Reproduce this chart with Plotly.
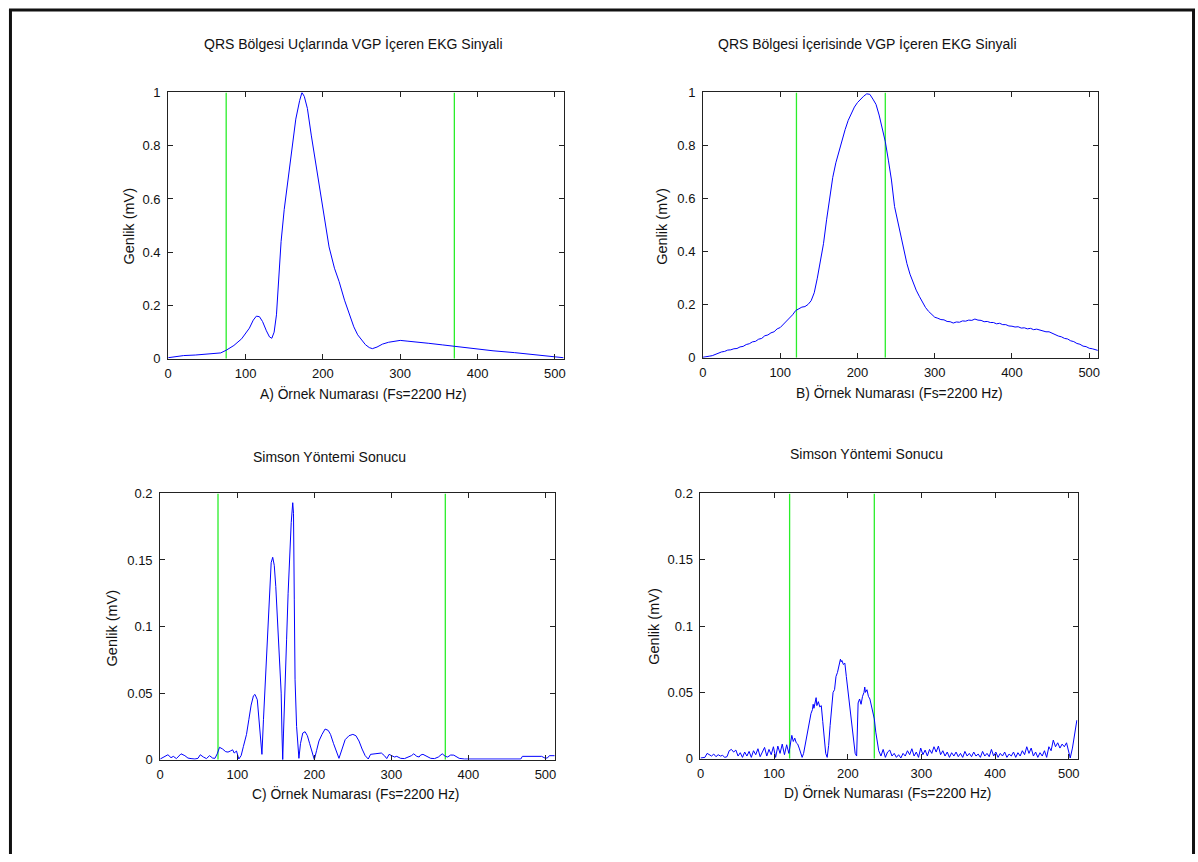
import plotly.graph_objects as go

# ---------------- data ----------------
A_x = [0, 10, 20, 35, 50, 62, 68, 75, 85, 95, 105, 110, 114, 118, 122, 127, 131, 134, 137, 140,
       143, 146, 150, 155, 160, 165, 170, 173, 176, 180, 185, 190, 195, 200, 208, 215, 221, 228,
       234, 240, 245, 250, 255, 260, 264, 270, 277, 285, 293, 300, 310, 320, 337, 355, 371, 385,
       400, 420, 448, 478, 500, 511]
A_y = [0.004, 0.008, 0.012, 0.014, 0.018, 0.021, 0.022, 0.032, 0.05, 0.075, 0.115, 0.145, 0.16,
       0.158, 0.14, 0.105, 0.082, 0.077, 0.1, 0.165, 0.3, 0.44, 0.56, 0.68, 0.8, 0.9, 0.97, 1.0,
       0.985, 0.94, 0.84, 0.75, 0.66, 0.57, 0.42, 0.34, 0.29, 0.22, 0.17, 0.12, 0.09, 0.07, 0.053,
       0.042, 0.038, 0.044, 0.055, 0.062, 0.067, 0.069, 0.066, 0.064, 0.058, 0.052, 0.046, 0.042,
       0.036, 0.03, 0.023, 0.015, 0.007, 0.004]

B_x = [0, 4, 8, 12, 16, 20, 24, 28, 32, 36, 40, 44, 48, 52, 56, 60, 64, 68, 72, 76, 80, 84, 88,
       92, 96, 100, 104, 108, 112, 116, 120, 124, 128, 132, 136, 140, 144, 148, 152, 156, 160,
       164, 168, 172, 176, 180, 184, 188, 192, 196, 200, 204, 208, 212, 216, 220, 224, 228, 232,
       236, 240, 244, 248, 252, 256, 260, 264, 268, 272, 276, 280, 284, 288, 292, 296, 300, 304,
       308, 312, 316, 320, 324, 328, 332, 336, 340, 344, 348, 352, 356, 360, 364, 368, 372, 376,
       380, 384, 388, 392, 396, 400, 404, 408, 412, 416, 420, 424, 428, 432, 436, 440, 444, 448,
       452, 456, 460, 464, 468, 472, 476, 480, 484, 488, 492, 496, 500, 504, 508, 511]
B_y = [0.002, 0.003, 0.006, 0.008, 0.013, 0.016, 0.022, 0.024, 0.029, 0.030, 0.034, 0.035, 0.041,
       0.043, 0.050, 0.053, 0.060, 0.062, 0.070, 0.073, 0.083, 0.086, 0.094, 0.098, 0.109, 0.114,
       0.126, 0.136, 0.151, 0.162, 0.178, 0.184, 0.191, 0.193, 0.201, 0.215, 0.245, 0.30, 0.37,
       0.43, 0.52, 0.60, 0.68, 0.735, 0.78, 0.82, 0.86, 0.895, 0.92, 0.945, 0.962, 0.975, 0.986,
       0.995, 0.993, 0.975, 0.955, 0.915, 0.87, 0.815, 0.745, 0.67, 0.57, 0.515, 0.46, 0.40,
       0.355, 0.315, 0.282, 0.255, 0.232, 0.21, 0.19, 0.175, 0.163, 0.153, 0.149, 0.144, 0.143,
       0.137, 0.136, 0.131, 0.135, 0.134, 0.139, 0.138, 0.142, 0.141, 0.146, 0.142, 0.141, 0.136,
       0.137, 0.133, 0.133, 0.128, 0.13, 0.125, 0.125, 0.12, 0.119, 0.116, 0.117, 0.112, 0.113,
       0.109, 0.111, 0.106, 0.108, 0.104, 0.103, 0.098, 0.098, 0.092, 0.089, 0.082, 0.079, 0.073,
       0.071, 0.064, 0.061, 0.054, 0.051, 0.044, 0.042, 0.036, 0.034, 0.029, 0.028]

C_x = [0, 5, 10, 14, 17, 21, 27, 32, 36, 40, 45, 49, 52, 56, 60, 64, 68, 71, 74, 77, 81, 85, 88,
       91, 94, 96, 99, 102, 105, 108, 112, 115, 118, 121, 123, 126, 129, 131, 132, 134, 136, 138,
       140, 142, 144, 146, 148, 150, 152, 154, 157, 158, 159, 160, 162, 164, 166, 168, 170, 172,
       173, 174, 175, 177, 179, 180, 182, 185, 188, 191, 194, 197, 200, 203, 206, 210, 214, 218,
       221, 225, 229, 232, 236, 240, 245, 250, 254, 258, 262, 266, 270, 273, 280, 287, 291, 294,
       297, 300, 304, 307, 312, 317, 322, 326, 329, 333, 336, 338, 341, 346, 351, 356, 361, 366,
       370, 373, 377, 381, 385, 388, 395, 420, 445, 468, 470, 495, 500, 503, 505, 512]
C_y = [0.0005, 0.002, 0.0037, 0.0015, 0.0025, 0.0008, 0.0044, 0.003, 0.0012, 0.0008, 0.0005,
       0.001, 0.0037, 0.002, 0.0008, 0.003, 0.0012, 0.001, 0.0044, 0.0093, 0.008, 0.006, 0.0057,
       0.0065, 0.0074, 0.005, 0.0065, 0.0005, 0.003, 0.01, 0.019, 0.03, 0.041, 0.048, 0.049,
       0.045, 0.024, 0.01, 0.004, 0.03, 0.055, 0.085, 0.11, 0.132, 0.148, 0.152, 0.146, 0.13,
       0.105, 0.08, 0.05, 0.02, 0.0, 0.02, 0.05, 0.09, 0.125, 0.155, 0.178, 0.193, 0.185, 0.12,
       0.06, 0.025, 0.005, 0.001, 0.012, 0.02, 0.021, 0.018, 0.012, 0.005, 0.0, 0.007, 0.014,
       0.019, 0.023, 0.022, 0.019, 0.012, 0.005, 0.001, 0.008, 0.015, 0.018, 0.019, 0.018, 0.014,
       0.008, 0.003, 0.0005, 0.004, 0.0045, 0.005, 0.003, 0.0008, 0.004, 0.003, 0.002, 0.0025,
       0.001, 0.0008, 0.002, 0.003, 0.0044, 0.0025, 0.002, 0.0035, 0.004, 0.0025, 0.001, 0.0008,
       0.002, 0.0044, 0.0025, 0.002, 0.0035, 0.0034, 0.002, 0.001, 0.0005, 0.0005, 0.0005,
       0.0005, 0.0025, 0.0025, 0.001, 0.0015, 0.003, 0.003]

D_x = [0, 3, 6, 9, 12, 15, 18, 21, 24, 27, 30, 33, 36, 39, 42, 45, 48, 51, 54, 57, 60, 63, 66,
       69, 72, 75, 78, 81, 84, 87, 90, 93, 96, 99, 102, 105, 108, 111, 114, 117, 120,
       122, 124, 126, 128, 130, 132, 134, 136, 138, 140, 142, 144, 146, 148, 150, 152, 153, 154,
       156, 157, 158, 160, 162, 164, 166, 168, 170, 172, 174, 176, 178, 180, 182, 184, 186, 188,
       190, 191, 192, 194, 196, 198, 200, 202, 204, 206, 208, 210, 212, 213, 214, 216, 218, 220,
       222, 223, 224, 226, 228, 230, 232, 234, 236, 238, 240, 242,
       245, 248, 251, 254, 257, 260, 263, 266, 269, 272, 275, 278, 281, 284, 287, 290, 293, 296,
       299, 302, 305, 308, 311, 314, 317, 320, 323, 326, 329, 332, 335, 338, 341, 344, 347, 350,
       353, 356, 359, 362, 365, 368, 371, 374, 377, 380, 383, 386, 389, 392, 395, 398, 401, 404,
       407, 410, 413, 416, 419, 422, 425, 428, 431, 434, 437, 440, 443, 446, 449, 452, 455, 458,
       461, 464, 467, 470, 473, 476, 479, 482, 485, 488, 491, 494, 497, 500, 502, 505, 508, 511]
D_y = [0.0005, 0.0005, 0.001, 0.004, 0.003, 0.002, 0.0035, 0.0015, 0.003, 0.002, 0.0025, 0.001,
       0.0015, 0.006, 0.007, 0.005, 0.0065, 0.002, 0.0045, 0.001, 0.005, 0.002, 0.0055, 0.001,
       0.006, 0.003, 0.0075, 0.0015, 0.005, 0.0085, 0.002, 0.007, 0.003, 0.009, 0.001, 0.0095,
       0.004, 0.011, 0.003, 0.0105, 0.004,
       0.012, 0.0176, 0.013, 0.0155, 0.012, 0.011, 0.008, 0.004, 0.001, 0.004, 0.01, 0.018, 0.024,
       0.029, 0.034, 0.037, 0.041, 0.038, 0.043, 0.046, 0.04, 0.043, 0.039, 0.04, 0.028, 0.014,
       0.004, 0.001, 0.01, 0.025, 0.04, 0.05, 0.052, 0.062, 0.065, 0.071, 0.075, 0.073, 0.074,
       0.071, 0.072, 0.062, 0.052, 0.045, 0.035, 0.025, 0.012, 0.004, 0.002, 0.02, 0.042, 0.045,
       0.041, 0.047, 0.05, 0.054, 0.05, 0.052, 0.047, 0.045, 0.04, 0.036, 0.03, 0.02, 0.011, 0.006,
       0.002, 0.007, 0.001, 0.005, 0.0065, 0.002, 0.004, 0.001, 0.003, 0.0005, 0.004, 0.002, 0.006,
       0.003, 0.0075, 0.002, 0.005, 0.001, 0.008, 0.003, 0.0065, 0.002, 0.007, 0.004, 0.009, 0.005,
       0.0095, 0.003, 0.006, 0.002, 0.005, 0.001, 0.0045, 0.002, 0.005, 0.0015, 0.004, 0.001,
       0.0055, 0.002, 0.004, 0.0015, 0.005, 0.002, 0.0035, 0.001, 0.0055, 0.002, 0.004, 0.0015,
       0.007, 0.002, 0.005, 0.001, 0.004, 0.002, 0.005, 0.001, 0.0035, 0.002, 0.005, 0.001, 0.0045,
       0.002, 0.006, 0.003, 0.009, 0.004, 0.008, 0.002, 0.005, 0.001, 0.0045, 0.002, 0.006, 0.001,
       0.009, 0.006, 0.014, 0.009, 0.012, 0.008, 0.011, 0.009, 0.012, 0.004, 0.0005, 0.008, 0.018,
       0.029]

# green marker lines (sample numbers)
markers_top = [75, 370]      # A and C
markers_bottom = [121, 236]  # B and D

titles = ["QRS Bölgesi Uçlarında VGP İçeren EKG Sinyali",
          "QRS Bölgesi İçerisinde VGP İçeren EKG Sinyali",
          "Simson Yöntemi Sonucu", "Simson Yöntemi Sonucu"]
xlabels = ["A) Örnek Numarası (Fs=2200 Hz)", "B) Örnek Numarası (Fs=2200 Hz)",
           "C) Örnek Numarası (Fs=2200 Hz)", "D) Örnek Numarası (Fs=2200 Hz)"]
ylabel = "Genlik (mV)"
xticks = [0, 100, 200, 300, 400, 500]
yticks_big = [0, 0.2, 0.4, 0.6, 0.8, 1]
yticks_big_txt = ["0", "0.2", "0.4", "0.6", "0.8", "1"]
yticks_small = [0, 0.05, 0.1, 0.15, 0.2]
yticks_small_txt = ["0", "0.05", "0.1", "0.15", "0.2"]

# ---------------- layout geometry (pixels) ----------------
W, H = 1198, 862
FONT = "Liberation Sans, Arial, sans-serif"
BLUE = "#0000ff"
GREEN = "#2aee2a"

def px(x):
    return x / W

def py(y):
    return 1 - y / H

panels = [
    dict(box=(165, 563, 87, 358), x=A_x, y=A_y, ymax=1, g=markers_top,
         t=(351, 37), xl=(361, 393), yl=(126, 223)),
    dict(box=(702.5, 1100, 87, 357), x=B_x, y=B_y, ymax=1, g=markers_bottom,
         t=(868, 37), xl=(900, 392), yl=(661, 223)),
    dict(box=(157, 553.5, 495, 766), x=C_x, y=C_y, ymax=0.2, g=markers_top,
         t=(327, 458), xl=(353, 800), yl=(109, 632)),
    dict(box=(700, 1079, 495, 765), x=D_x, y=D_y, ymax=0.2, g=markers_bottom,
         t=(867, 455), xl=(888, 799), yl=(653, 630)),
]

fig = go.Figure()
annotations = []
layout_axes = {}

for i, p in enumerate(panels):
    n = "" if i == 0 else str(i + 1)
    xa, ya = "x" + n, "y" + n
    l, r, t, b = p["box"]
    for gx in p["g"]:
        fig.add_trace(go.Scatter(x=[gx, gx], y=[0, p["ymax"]], mode="lines",
                                 line=dict(color=GREEN, width=1.3),
                                 xaxis=xa, yaxis=ya, showlegend=False, hoverinfo="skip"))
    fig.add_trace(go.Scatter(x=p["x"], y=p["y"], mode="lines",
                             line=dict(color=BLUE, width=1),
                             xaxis=xa, yaxis=ya, showlegend=False))
    common = dict(showline=True, linecolor="#222", linewidth=1, mirror="ticks",
                  ticks="inside", ticklen=5, tickcolor="#222", tickwidth=1,
                  showgrid=False, zeroline=False,
                  tickfont=dict(family=FONT, size=13, color="#111"))
    big = p["ymax"] == 1
    layout_axes["xaxis" + n] = dict(domain=[px(l), px(r)], range=[0, 512], anchor=ya,
                                    tickmode="array", tickvals=xticks,
                                    ticklabelstandoff=3, **common)
    layout_axes["yaxis" + n] = dict(domain=[py(b), py(t)], range=[0, p["ymax"]], anchor=xa,
                                    tickmode="array",
                                    tickvals=yticks_big if big else yticks_small,
                                    ticktext=yticks_big_txt if big else yticks_small_txt,
                                    ticklabelstandoff=4, **common)
    annotations.append(dict(text=titles[i], x=px(p["t"][0]), y=py(p["t"][1]), xref="paper",
                            yref="paper", xanchor="center", yanchor="middle", showarrow=False,
                            font=dict(family=FONT, size=14, color="#111")))
    annotations.append(dict(text=xlabels[i], x=px(p["xl"][0]), y=py(p["xl"][1]), xref="paper",
                            yref="paper", xanchor="center", yanchor="middle", showarrow=False,
                            font=dict(family=FONT, size=13.8, color="#111")))
    annotations.append(dict(text=ylabel, x=px(p["yl"][0]), y=py(p["yl"][1]), xref="paper",
                            yref="paper", xanchor="center", yanchor="middle", showarrow=False,
                            textangle=-90, font=dict(family=FONT, size=14.5, color="#111")))

# outer frame (left, top, right edges)
shapes = [
    dict(type="line", xref="paper", yref="paper", x0=px(6.5), x1=px(6.5), y0=0, y1=py(2.5),
         line=dict(color="#111", width=3)),
    dict(type="line", xref="paper", yref="paper", x0=px(5), x1=px(1197), y0=py(3), y1=py(3),
         line=dict(color="#111", width=3)),
    dict(type="line", xref="paper", yref="paper", x0=px(1195.5), x1=px(1195.5), y0=0, y1=py(2.5),
         line=dict(color="#111", width=3)),
]

fig.update_layout(width=W, height=H, margin=dict(l=0, r=0, t=0, b=0),
                  paper_bgcolor="white", plot_bgcolor="white",
                  annotations=annotations, shapes=shapes, **layout_axes)

fig.write_html("out.html")
